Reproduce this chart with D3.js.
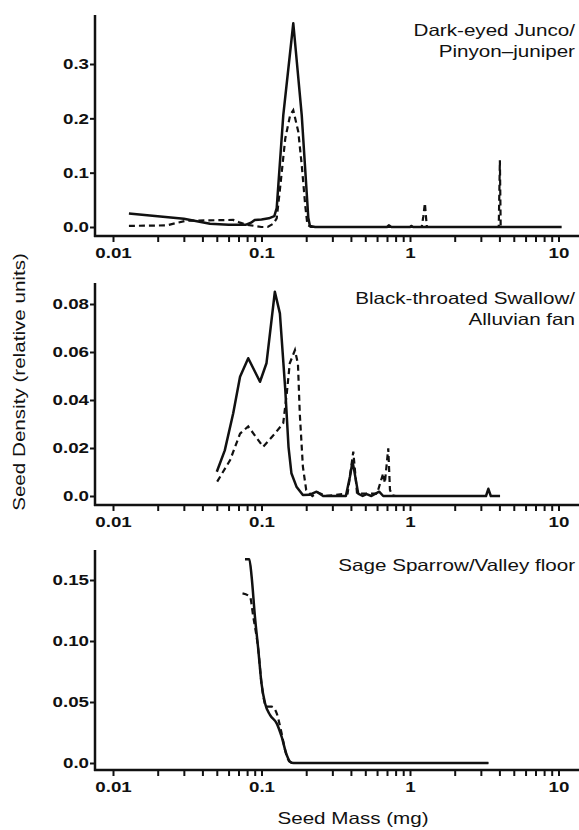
<!DOCTYPE html>
<html>
<head>
<meta charset="utf-8">
<script src="https://cdn.jsdelivr.net/npm/d3@7"></script>
<style>
  body { margin: 0; background: #fff; }
</style>
</head>
<body>
<script>
// ---- data ----
// Dark-eyed Junco / Pinyon-juniper
const juncoMassSolid = [0.0128, 0.02, 0.03, 0.045, 0.06, 0.078, 0.085, 0.09, 0.1, 0.112, 0.122, 0.1266, 0.1402, 0.1637, 0.1866, 0.2066, 0.2119, 0.23, 0.5, 0.7, 0.72, 0.75, 1.0, 1.02, 1.05, 10.5];
const juncoSolid     = [0.025, 0.02, 0.015, 0.006, 0.004, 0.004, 0.008, 0.013, 0.014, 0.016, 0.02, 0.035, 0.206, 0.375, 0.206, 0.017, 0.002, 0, 0, 0, 0.003, 0, 0, 0.002, 0, 0];
const juncoMassDash  = [0.0128, 0.023, 0.031, 0.0645, 0.0717, 0.08, 0.1, 0.11, 0.12, 0.1266, 0.1326, 0.1446, 0.156, 0.1637, 0.177, 0.1866, 0.197, 0.2037, 0.215, 1.2, 1.23, 1.26, 1.28, 1.3, 3.96, 4.03, 4.08, 10.5];
const juncoDash      = [0.002, 0.003, 0.0116, 0.013, 0.008, 0.004, 0.0, 0.0, 0.006, 0.016, 0.065, 0.163, 0.206, 0.215, 0.175, 0.114, 0.04, 0.004, 0, 0, 0.02, 0.044, 0.02, 0, 0, 0.123, 0, 0];

// Black-throated Swallow / Alluvian fan
const swallowMassSolid = [0.05, 0.0566, 0.0645, 0.0717, 0.0814, 0.0977, 0.108, 0.123, 0.133, 0.1446, 0.152, 0.159, 0.172, 0.19, 0.21, 0.235, 0.26, 0.37, 0.394, 0.41, 0.42, 0.448, 0.48, 0.51, 0.55, 0.62, 0.66, 0.8, 3.25, 3.37, 3.5, 4.04];
const swallowSolid     = [0.0101, 0.019, 0.0345, 0.0497, 0.0574, 0.0476, 0.0553, 0.0851, 0.0761, 0.0442, 0.0205, 0.0095, 0.0039, 0.0004, 0.0005, 0.0018, 0, 0, 0.008, 0.0143, 0.011, 0.001, 0, 0.0008, 0, 0.0018, 0, 0, 0, 0.003, 0, 0];
const swallowMassDash  = [0.0503, 0.0615, 0.0717, 0.0814, 0.1026, 0.123, 0.14, 0.148, 0.155, 0.168, 0.176, 0.181, 0.19, 0.2, 0.22, 0.24, 0.27, 0.38, 0.415, 0.44, 0.6, 0.66, 0.677, 0.714, 0.733, 0.76, 0.8];
const swallowDash      = [0.006, 0.015, 0.026, 0.029, 0.0205, 0.026, 0.0303, 0.0428, 0.0553, 0.0608, 0.055, 0.0345, 0.0122, 0.0025, 0, 0.0015, 0, 0.001, 0.0185, 0.001, 0.001, 0.0095, 0.0054, 0.0199, 0.0025, 0.0003, 0];

// Sage Sparrow / Valley floor
const sparrowMassSolid = [0.0774, 0.0828, 0.0858, 0.0903, 0.0952, 0.1, 0.1056, 0.1143, 0.1266, 0.1366, 0.1478, 0.1594, 0.17, 3.37];
const sparrowSolid     = [0.167, 0.167, 0.1527, 0.12, 0.0926, 0.0653, 0.049, 0.0393, 0.0325, 0.0216, 0.0066, 0.0002, 0, 0];
const sparrowMassDash  = [0.0745, 0.0836, 0.088, 0.0952, 0.1, 0.1084, 0.117, 0.1266, 0.1366, 0.146, 0.155, 0.17, 3.37];
const sparrowDash      = [0.139, 0.1363, 0.12, 0.0926, 0.0653, 0.0462, 0.0462, 0.0407, 0.0243, 0.008, 0.001, 0, 0];

// axes
const xMajor = [0.01, 0.1, 1, 10];
const xMajorLabels = ["0.01", "0.1", "1", "10"];
const xMinorMult = [2, 3, 4, 5, 6, 7, 8, 9];

const juncoYTicks = [0, 0.1, 0.2, 0.3];
const juncoYLabels = ["0.0", "0.1", "0.2", "0.3"];
const swallowYTicks = [0, 0.02, 0.04, 0.06, 0.08];
const swallowYLabels = ["0.0", "0.02", "0.04", "0.06", "0.08"];
const sparrowYTicks = [0, 0.05, 0.1, 0.15];
const sparrowYLabels = ["0.0", "0.05", "0.10", "0.15"];

const juncoTitle = ["Dark-eyed Junco/", "Pinyon\u2013juniper"];
const swallowTitle = ["Black-throated Swallow/", "Alluvian fan"];
const sparrowTitle = ["Sage Sparrow/Valley floor"];

// ---- layout ----
const width = 579, height = 830;
const FONT = "'Liberation Sans', Arial, Helvetica, sans-serif";
const SX = 1.25; // the original typeface is much wider than Arial

const panels = [
  { top: 15,  zeroY: 227, axisY: 236, refY: 64,  refV: 0.3,
    ticks: juncoYTicks, labels: juncoYLabels, title: juncoTitle, curve: d3.curveLinear,
    solid: [juncoMassSolid, juncoSolid], dash: [juncoMassDash, juncoDash] },
  { top: 283, zeroY: 496, axisY: 505, refY: 304, refV: 0.08,
    ticks: swallowYTicks, labels: swallowYLabels, title: swallowTitle, curve: d3.curveLinear,
    solid: [swallowMassSolid, swallowSolid], dash: [swallowMassDash, swallowDash] },
  { top: 550, zeroY: 763, axisY: 770, refY: 580, refV: 0.15,
    ticks: sparrowYTicks, labels: sparrowYLabels, title: sparrowTitle, curve: d3.curveMonotoneX,
    solid: [sparrowMassSolid, sparrowSolid], dash: [sparrowMassDash, sparrowDash] }
];

const yAxisX = 95;
const x = d3.scaleLog().domain([0.01, 10]).range([113, 558.5]);

const xTickVals = [];
xMajor.forEach((d, i) => {
  xTickVals.push(d);
  if (i < xMajor.length - 1) xMinorMult.forEach(k => xTickVals.push(+(d * k).toPrecision(3)));
});

const svg = d3.select("body").append("svg")
  .attr("width", width)
  .attr("height", height)
  .style("font-family", FONT);

function stretch(sel) {
  sel.each(function () {
    const t = d3.select(this);
    const tx = +t.attr("x") || 0;
    t.attr("x", tx / SX).attr("transform", `scale(${SX},1)`);
  });
}

panels.forEach(p => {
  const y = d3.scaleLinear().domain([0, p.refV]).range([p.zeroY, p.refY]);
  const g = svg.append("g");

  // y axis
  const ya = g.append("g")
    .attr("transform", `translate(${yAxisX},0)`)
    .call(d3.axisLeft(y).tickValues(p.ticks).tickSize(5).tickPadding(1)
      .tickFormat((d, i) => p.labels[i]));
  ya.select(".domain").remove();
  ya.selectAll(".tick line").attr("stroke", "#111").attr("stroke-width", 2);
  ya.selectAll("text").attr("font-size", 15).attr("font-weight", "bold")
    .attr("fill", "#111").attr("font-family", FONT).call(stretch);
  g.append("line")
    .attr("x1", yAxisX).attr("x2", yAxisX)
    .attr("y1", p.top).attr("y2", p.axisY + 1)
    .attr("stroke", "#111").attr("stroke-width", 2.5);

  // x axis
  const xa = g.append("g")
    .attr("transform", `translate(0,${p.axisY})`)
    .call(d3.axisBottom(x).tickValues(xTickVals).tickSize(6).tickPadding(5)
      .tickFormat(d => {
        const i = xMajor.indexOf(d);
        return i >= 0 ? xMajorLabels[i] : "";
      }));
  xa.select(".domain").remove();
  xa.selectAll(".tick line").attr("stroke", "#111").attr("stroke-width", 2);
  xa.selectAll("text").attr("font-size", 15).attr("font-weight", "bold")
    .attr("fill", "#111").attr("font-family", FONT).call(stretch);
  g.append("line")
    .attr("x1", yAxisX - 1).attr("x2", width)
    .attr("y1", p.axisY).attr("y2", p.axisY)
    .attr("stroke", "#111").attr("stroke-width", 2.5);

  // curves
  const line = d3.line()
    .x(d => x(d[0]))
    .y(d => y(d[1]))
    .curve(p.curve);

  const solidPts = d3.zip(p.solid[0], p.solid[1]);
  const dashPts = d3.zip(p.dash[0], p.dash[1]);

  g.append("path")
    .datum(dashPts)
    .attr("d", line)
    .attr("fill", "none")
    .attr("stroke", "#111")
    .attr("stroke-width", 2.2)
    .attr("stroke-dasharray", "6,4");

  g.append("path")
    .datum(solidPts)
    .attr("d", line)
    .attr("fill", "none")
    .attr("stroke", "#111")
    .attr("stroke-width", 2.5)
    .attr("stroke-linejoin", "round");

  // panel title, right aligned
  p.title.forEach((t, i) => {
    svg.append("text")
      .attr("transform", `translate(575,${p.top + 21 + i * 21}) scale(${SX},1)`)
      .attr("text-anchor", "end")
      .attr("font-size", 16.5)
      .attr("fill", "#111")
      .text(t);
  });
});

// axis titles
svg.append("text")
  .attr("transform", `translate(25,382) rotate(-90) scale(${SX},1)`)
  .attr("text-anchor", "middle")
  .attr("font-size", 16.5)
  .attr("fill", "#111")
  .text("Seed Density (relative units)");

svg.append("text")
  .attr("transform", `translate(353,824) scale(${SX},1)`)
  .attr("text-anchor", "middle")
  .attr("font-size", 16.5)
  .attr("fill", "#111")
  .text("Seed Mass (mg)");
</script>
</body>
</html>
